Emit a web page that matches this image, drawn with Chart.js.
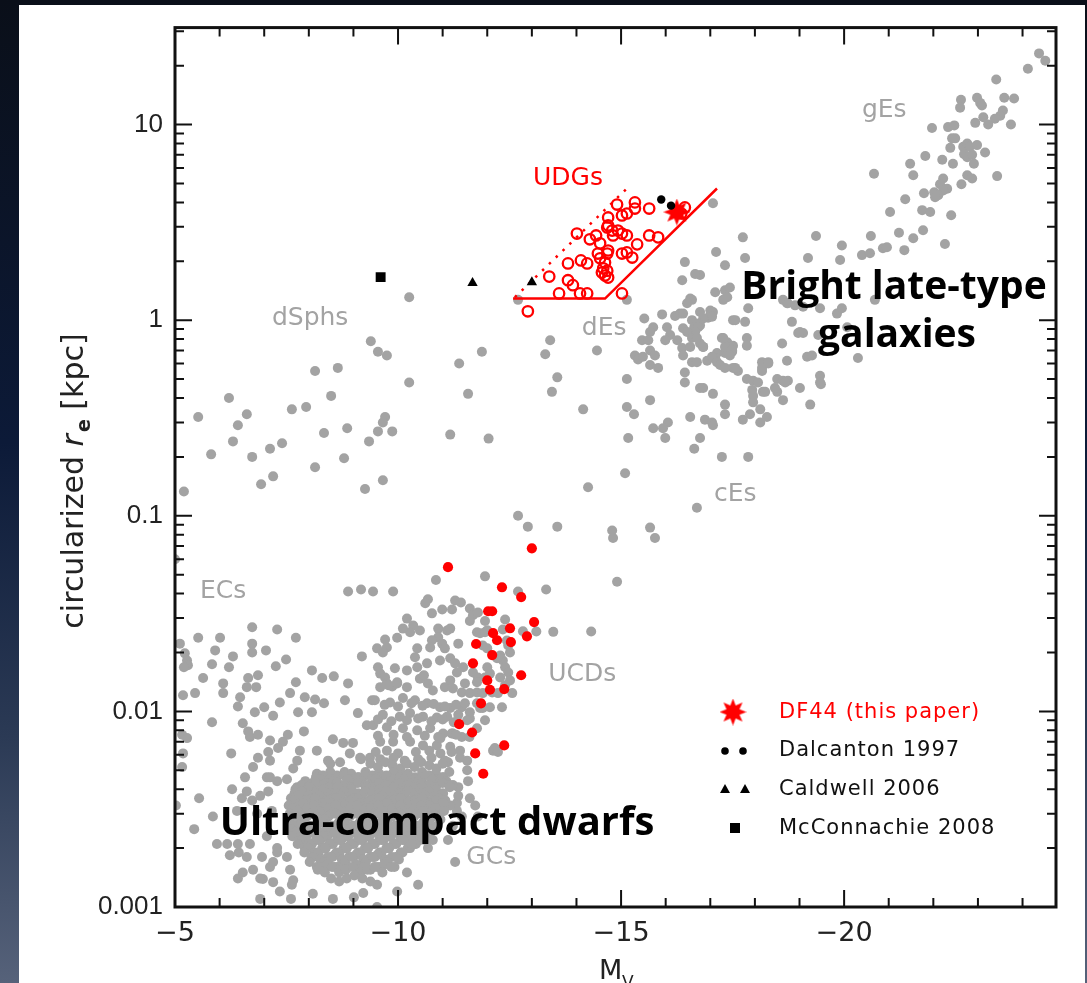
<!DOCTYPE html>
<html lang="en">
<head>
<meta charset="UTF-8">
<title>Size-luminosity plane</title>
<script src="https://cdn.jsdelivr.net/npm/chart.js"></script>
<style>
  html, body { margin: 0; padding: 0; }
  body {
    width: 1087px; height: 983px; overflow: hidden; position: relative;
    background: linear-gradient(180deg, #0a0f19 0%, #0c1a38 45%, #2b3a55 75%, #56627a 100%);
  }
  /* white slide panel behind the plot */
  #panel { position: absolute; left: 19px; top: 5px; width: 1066px; height: 978px; background: #fff; }
  #chart { position: absolute; left: 0; top: 0; }
</style>
</head>
<body>
<div id="panel"></div>
<canvas id="chart" width="1087" height="983"></canvas>
<script>
// axis ticks
const xTicks = [-5, -10, -15, -20];
const xTickLabels = ['\u22125', '\u221210', '\u221215', '\u221220'];
const yTicks = [0.001, 0.01, 0.1, 1, 10];
const yTickLabels = ['0.001', '0.01', '0.1', '1', '10'];

// [M_V, r_e (kpc)]
const df44 = [[-16.25, 3.57]];
const dalcanton = [[-15.90, 4.14], [-16.12, 3.85]];
const caldwell = [[-11.67, 1.55], [-13.0, 1.56]];
const mcconnachie = [[-9.61, 1.66]];

const udgPts = [
  [-14.91, 3.90], [-15.31, 4.00], [-15.31, 3.72], [-15.63, 3.72], [-16.43, 3.77], [-15.02, 3.43],
  [-15.13, 3.51], [-14.71, 3.35], [-14.71, 3.05], [-14.69, 2.98], [-14.80, 2.87], [-14.93, 2.87],
  [-14.82, 2.71], [-15.02, 2.77], [-15.13, 2.71], [-15.63, 2.71], [-15.83, 2.65], [-14.01, 2.77],
  [-14.30, 2.59], [-14.44, 2.71], [-14.53, 2.47], [-15.36, 2.44], [-14.48, 2.19], [-14.69, 2.19],
  [-14.71, 2.27], [-15.02, 2.19], [-15.13, 2.22], [-15.25, 2.09], [-14.10, 2.02], [-14.24, 1.95],
  [-13.81, 1.95], [-14.53, 2.07], [-14.64, 1.97], [-14.60, 1.84], [-14.69, 1.79], [-14.71, 1.65],
  [-14.64, 1.69], [-14.57, 1.75], [-13.39, 1.67], [-13.81, 1.60], [-13.92, 1.51], [-13.61, 1.37],
  [-14.08, 1.37], [-14.24, 1.37], [-15.02, 1.37], [-12.91, 1.11], [-16.35, 3.51]
];

const ucdRed = [
  [-13.00, 0.0682], [-11.12, 0.0546], [-12.33, 0.0431], [-12.76, 0.0384], [-12.02, 0.0325],
  [-12.11, 0.0325], [-13.05, 0.0286], [-12.51, 0.0266], [-12.13, 0.0251], [-12.89, 0.0242],
  [-12.22, 0.0231], [-12.53, 0.0226], [-11.75, 0.0221], [-12.11, 0.0194], [-11.68, 0.0176],
  [-12.76, 0.0153], [-12.00, 0.0144], [-12.06, 0.0129], [-12.38, 0.0130], [-11.86, 0.0110],
  [-11.37, 0.0086], [-11.66, 0.0078], [-12.38, 0.0067], [-11.73, 0.0061], [-11.91, 0.0048]
];

// UDG selection box: solid edge and dotted edge
const udgBoxSolid = [[-12.58, 1.29], [-14.64, 1.29], [-17.15, 4.71]];
const udgBoxDotted = [[-12.62, 1.31], [-15.13, 4.71]];

// gray comparison sample
const giantPts = [
  [-24.37, 23.1], [-24.51, 21.2], [-24.12, 19.3], [-23.41, 17.0], [-22.62, 13.4], [-22.60, 12.2],
  [-22.98, 13.7], [-23.05, 12.9], [-23.09, 12.5], [-23.59, 13.7], [-23.81, 13.6], [-23.56, 11.8],
  [-23.50, 11.1], [-23.38, 10.7], [-23.23, 10.0], [-23.12, 10.9], [-22.94, 10.2], [-23.74, 10.0],
  [-21.97, 9.6], [-22.33, 9.7], [-22.47, 9.9], [-22.42, 8.5], [-22.49, 8.5], [-22.38, 7.6],
  [-22.67, 7.7], [-22.76, 8.0], [-22.82, 7.7], [-22.98, 7.85], [-23.16, 7.2], [-22.69, 7.05],
  [-22.76, 6.8], [-22.87, 7.0], [-21.82, 6.9], [-22.20, 6.6], [-22.44, 6.3], [-22.91, 6.3],
  [-21.48, 6.3], [-21.55, 5.5], [-20.67, 5.6], [-23.43, 5.45], [-22.76, 5.5], [-22.87, 5.3],
  [-22.22, 5.3], [-22.15, 4.95], [-22.31, 4.7], [-22.22, 4.6], [-22.63, 4.95], [-21.79, 4.45],
  [-22.02, 4.5], [-22.11, 4.35], [-22.04, 4.25], [-21.37, 4.15], [-21.03, 3.57], [-21.75, 3.65],
  [-21.93, 3.57], [-22.40, 3.44], [-21.23, 2.8], [-21.55, 2.62], [-21.77, 2.88], [-22.26, 2.45],
  [-20.60, 2.69], [-20.87, 2.33], [-20.96, 2.36], [-20.40, 2.15], [-20.58, 2.2], [-19.95, 2.41],
  [-19.37, 2.69], [-17.73, 2.65], [-21.35, 2.28], [-19.91, 2.03], [-19.19, 2.08], [-17.78, 2.08],
  [-17.13, 2.23], [-17.33, 1.91], [-16.77, 1.70], [-17.11, 1.39], [-17.33, 1.42], [-17.44, 1.47],
  [-17.85, 1.15], [-18.72, 1.22], [-18.90, 1.19], [-19.08, 1.17], [-19.46, 1.15], [-19.84, 1.08],
  [-19.95, 1.15], [-20.07, 0.92], [-20.69, 1.27], [-17.51, 1.0], [-17.78, 0.98], [-18.83, 0.98],
  [-19.08, 0.86], [-16.77, 0.94], [-16.95, 1.03], [-17.06, 1.10], [-17.26, 0.81], [-17.38, 0.77],
  [-17.51, 0.74], [-17.49, 0.69], [-17.33, 0.68], [-18.61, 0.76], [-16.77, 0.76], [-16.84, 0.73],
  [-17.15, 0.68], [-17.11, 0.64], [-18.16, 0.61], [-18.30, 0.61], [-18.72, 0.62], [-19.17, 0.65],
  [-19.28, 0.66], [-20.31, 0.64], [-18.16, 0.57], [-17.51, 0.57], [-17.62, 0.55], [-17.82, 0.50],
  [-17.96, 0.49], [-18.07, 0.48], [-18.50, 0.50], [-18.63, 0.49], [-18.74, 0.49], [-19.46, 0.52],
  [-19.46, 0.48], [-19.01, 0.45], [-17.94, 0.44], [-17.96, 0.41], [-18.50, 0.43], [-16.77, 0.45],
  [-17.06, 0.42], [-17.33, 0.37], [-17.33, 0.33], [-17.96, 0.38], [-17.89, 0.33], [-17.73, 0.31],
  [-18.12, 0.30], [-18.18, 0.43], [-18.27, 0.32], [-18.45, 0.45], [-18.63, 0.39], [-19.24, 0.37],
  [-19.48, 0.47], [-18.12, 0.35], [-16.88, 0.31], [-17.04, 0.30], [-16.77, 0.25], [-17.26, 0.20],
  [-17.85, 0.20], [-18.68, 0.48]
];

const dePts = [
  [-17.06, 3.96], [-16.43, 1.98], [-16.66, 1.72], [-16.37, 1.60], [-17.29, 1.27], [-17.38, 1.31],
  [-16.55, 1.29], [-16.59, 1.27], [-16.48, 1.22], [-18.63, 1.27], [-18.74, 1.22], [-15.13, 1.27],
  [-12.69, 1.27], [-15.52, 1.02], [-15.92, 1.07], [-16.21, 1.05], [-16.32, 1.08], [-16.39, 1.08],
  [-16.77, 1.10], [-17.0, 1.12], [-17.04, 1.04], [-16.84, 1.02], [-16.59, 1.0], [-16.73, 0.96],
  [-16.64, 0.92], [-16.73, 0.92], [-16.66, 0.87], [-17.56, 1.0], [-15.72, 0.92], [-15.65, 0.87],
  [-16.03, 0.92], [-16.10, 0.84], [-15.99, 0.79], [-16.39, 0.91], [-16.48, 0.87], [-16.59, 0.81],
  [-16.70, 0.81], [-15.47, 0.79], [-15.61, 0.79], [-16.26, 0.79], [-16.37, 0.72], [-16.55, 0.73],
  [-16.84, 0.73], [-17.29, 0.81], [-17.33, 0.73], [-17.49, 0.70], [-17.44, 0.66], [-17.82, 0.81],
  [-17.82, 0.74], [-18.97, 0.86], [-19.01, 0.87], [-19.42, 0.84], [-15.65, 0.70], [-15.76, 0.66],
  [-15.31, 0.66], [-15.38, 0.63], [-15.49, 0.65], [-15.65, 0.59], [-15.83, 0.57], [-16.39, 0.66],
  [-16.59, 0.61], [-16.70, 0.61], [-16.93, 0.62], [-17.04, 0.65], [-17.15, 0.61], [-17.22, 0.59],
  [-17.33, 0.57], [-17.56, 0.57], [-18.30, 0.60], [-18.16, 0.55], [-16.43, 0.54], [-16.43, 0.48],
  [-16.84, 0.45], [-18.23, 0.43], [-17.06, 0.29], [-16.55, 0.32], [-15.13, 0.50], [-15.65, 0.39],
  [-15.13, 0.36], [-15.29, 0.33], [-16.05, 0.30], [-15.94, 0.28], [-15.72, 0.28], [-15.99, 0.25],
  [-15.16, 0.25], [-16.64, 0.22], [-15.09, 0.165], [-14.26, 0.14], [-16.70, 0.11], [-13.41, 0.79],
  [-13.30, 0.67], [-14.46, 0.70], [-13.57, 0.51], [-13.45, 0.43], [-14.15, 0.35]
];

const dsphPts = [
  [-10.25, 1.31], [-9.39, 0.78], [-9.55, 0.69], [-9.75, 0.66], [-10.25, 0.48], [-8.14, 0.55],
  [-8.65, 0.57], [-11.37, 0.60], [-11.88, 0.69], [-11.57, 0.42], [-6.21, 0.40], [-8.50, 0.41],
  [-7.62, 0.35], [-7.94, 0.36], [-5.52, 0.32], [-6.61, 0.33], [-6.41, 0.29], [-9.71, 0.32],
  [-9.66, 0.30], [-9.55, 0.27], [-9.87, 0.27], [-8.34, 0.265], [-8.86, 0.28], [-9.35, 0.24],
  [-11.17, 0.26], [-12.03, 0.248], [-6.30, 0.24], [-5.81, 0.206], [-6.73, 0.20], [-7.13, 0.22],
  [-7.40, 0.235], [-8.14, 0.177], [-8.79, 0.197], [-6.93, 0.145], [-7.20, 0.159], [-9.26, 0.137],
  [-9.66, 0.152], [-5.20, 0.133]
];

const compactPts = [
  [-12.69, 0.10], [-12.91, 0.088], [-13.57, 0.088], [-14.80, 0.084], [-14.82, 0.077], [-15.65, 0.087],
  [-15.76, 0.077], [-5.0, 0.060], [-14.91, 0.046], [-13.32, 0.042], [-10.85, 0.047], [-11.95, 0.049],
  [-12.69, 0.041], [-14.33, 0.0256], [-13.48, 0.0255], [-13.10, 0.0256], [-12.80, 0.0257],
  [-8.88, 0.041], [-9.17, 0.042], [-9.44, 0.041], [-9.89, 0.041],
  [-5.52, 0.0238], [-6.01, 0.0238], [-6.73, 0.0269], [-7.29, 0.0262], [-7.71, 0.0238], [-5.11, 0.0222],
  [-6.73, 0.0222], [-6.73, 0.020], [-7.04, 0.0205], [-5.90, 0.0205], [-5.22, 0.0198], [-5.27, 0.0182],
  [-5.29, 0.0172], [-5.20, 0.0168], [-6.30, 0.0191], [-5.83, 0.0174], [-6.21, 0.0168], [-7.26, 0.0170],
  [-7.49, 0.0184], [-9.19, 0.0191], [-9.71, 0.0233], [-9.75, 0.0212], [-9.98, 0.0238], [-5.63, 0.0148],
  [-6.64, 0.0148], [-6.86, 0.0153], [-6.61, 0.0133], [-6.82, 0.0133], [-6.08, 0.0139], [-7.71, 0.0141],
  [-8.07, 0.0162], [-8.30, 0.0148], [-8.56, 0.0151], [-8.88, 0.0139], [-9.55, 0.0168], [-9.60, 0.0156],
  [-9.71, 0.0149], [-9.75, 0.0139], [-9.87, 0.0134], [-9.98, 0.0139], [-5.18, 0.0121], [-5.45, 0.0124],
  [-6.08, 0.0124], [-6.46, 0.0118], [-7.58, 0.0124], [-7.91, 0.0118], [-6.41, 0.0106], [-6.79, 0.0099],
  [-7.0, 0.0105], [-7.20, 0.0095], [-7.35, 0.0111], [-7.76, 0.0099], [-8.07, 0.0099], [-8.14, 0.0115],
  [-8.34, 0.0110], [-8.81, 0.0114], [-9.10, 0.0098], [-9.42, 0.0114], [-5.83, 0.0088], [-6.52, 0.0087],
  [-6.64, 0.0079], [-6.68, 0.0074], [-6.86, 0.0076], [-7.13, 0.0071], [-7.42, 0.0070], [-7.53, 0.0076],
  [-7.89, 0.0079], [-8.54, 0.0072], [-8.77, 0.0069], [-8.99, 0.0069], [-6.26, 0.0061], [-6.75, 0.0052],
  [-6.86, 0.0058], [-7.09, 0.0062], [-7.13, 0.0056], [-7.31, 0.0065], [-8.18, 0.0063], [-8.43, 0.0056],
  [-9.17, 0.0057], [-5.16, 0.0076], [-5.27, 0.0073], [-5.18, 0.0061], [-5.16, 0.0052], [-5.02, 0.0033],
  [-5.54, 0.0036], [-5.85, 0.0029], [-5.43, 0.0025], [-5.94, 0.0021], [-6.17, 0.0021], [-6.50, 0.0036],
  [-6.61, 0.0039], [-7.09, 0.0039], [-6.23, 0.00184], [-6.43, 0.0019], [-6.61, 0.0018], [-6.41, 0.0014],
  [-6.52, 0.0015], [-7.13, 0.0016], [-6.91, 0.0011], [-7.35, 0.0012], [-7.60, 0.0011], [-8.09, 0.00117],
  [-8.54, 0.0011], [-9.01, 0.00112], [-7.29, 0.0019], [-9.53, 0.001], [-6.97, 0.00139], [-7.62, 0.0013],
  [-9.22, 0.00118], [-9.53, 0.0013], [-9.98, 0.0012], [-10.20, 0.0015], [-10.45, 0.0013], [-11.28, 0.0017],
  [-10.67, 0.002], [-10.78, 0.0022], [-11.12, 0.0022], [-11.23, 0.0026], [-11.32, 0.0031], [-11.43, 0.0029],
  [-11.57, 0.0044], [-11.35, 0.0041], [-11.32, 0.0034], [-11.73, 0.0033], [-11.12, 0.0055], [-11.55, 0.0056],
  [-12.13, 0.0063], [-10.90, 0.0074], [-11.20, 0.0077], [-11.77, 0.0082], [-11.61, 0.0092], [-11.90, 0.0104],
  [-11.77, 0.011], [-7.80, 0.0063], [-9.30, 0.0085], [-6.57, 0.0046], [-7.06, 0.0046], [-6.28, 0.0040],
  [-6.73, 0.0035], [-6.91, 0.0037], [-6.39, 0.0031], [-6.84, 0.0030], [-7.17, 0.0031], [-6.41, 0.0021],
  [-6.68, 0.0021], [-7.06, 0.0023], [-7.29, 0.0020], [-6.95, 0.0018], [-7.20, 0.0017], [-7.51, 0.0018],
  [-6.75, 0.00155], [-7.58, 0.00155], [-6.91, 0.0014], [-7.20, 0.00134], [-7.65, 0.00137],
  [-7.74, 0.0056], [-7.65, 0.0051], [-7.13, 0.0046], [-7.29, 0.0044], [-7.51, 0.0045], [-7.74, 0.0041],
  [-8.18, 0.0048], [-8.48, 0.0054], [-8.70, 0.0055], [-8.92, 0.0061], [-9.15, 0.0058], [-9.37, 0.0058],
  [-11.35, 0.0037], [-11.61, 0.0036], [-11.17, 0.0033], [-11.79, 0.0029], [-11.39, 0.0058], [-11.55, 0.005],
  [-10.67, 0.0374], [-10.61, 0.0357], [-11.28, 0.0369], [-11.41, 0.036], [-10.99, 0.0332], [-11.21, 0.0332],
  [-10.76, 0.0317], [-11.61, 0.0336], [-11.68, 0.0310], [-11.79, 0.032], [-11.95, 0.029], [-11.61, 0.029],
  [-12.40, 0.0295], [-12.35, 0.0262], [-10.20, 0.0298], [-10.34, 0.0275], [-10.49, 0.0259], [-10.27, 0.0254],
  [-10.11, 0.0265], [-10.90, 0.0265], [-11.10, 0.0259], [-11.17, 0.0265], [-10.90, 0.0239], [-10.76, 0.0231],
  [-11.35, 0.0222], [-11.77, 0.0254], [-11.84, 0.0251], [-11.95, 0.0254], [-12.0, 0.026], [-11.90, 0.0217],
  [-12.0, 0.021], [-12.44, 0.023], [-12.47, 0.0217], [-12.51, 0.020], [-12.29, 0.0193], [-12.22, 0.0187],
  [-12.35, 0.0182], [-9.53, 0.021], [-9.66, 0.020], [-10.43, 0.021], [-10.72, 0.0212], [-10.99, 0.0222],
  [-11.05, 0.021], [-10.38, 0.0189], [-10.65, 0.0176], [-10.43, 0.0168], [-10.20, 0.0162], [-9.93, 0.0166],
  [-10.94, 0.0182], [-11.17, 0.0187], [-11.28, 0.0176], [-11.32, 0.0158], [-11.46, 0.0168], [-11.68, 0.0158],
  [-11.79, 0.0149], [-11.95, 0.0149], [-12.06, 0.0156], [-12.40, 0.0168], [-12.47, 0.0158], [-12.51, 0.0144],
  [-12.40, 0.0136], [-9.60, 0.0133], [-9.78, 0.0136], [-9.98, 0.0141], [-10.20, 0.0133], [-10.49, 0.0147],
  [-10.67, 0.0139], [-10.78, 0.0128], [-11.05, 0.0133], [-11.23, 0.0131], [-11.43, 0.0125], [-11.61, 0.0124],
  [-11.77, 0.0125], [-11.90, 0.0124], [-12.11, 0.0125], [-12.24, 0.0124], [-12.56, 0.0124], [-9.48, 0.0114],
  [-9.82, 0.0111], [-10.11, 0.0117], [-10.38, 0.0114], [-10.65, 0.011], [-10.94, 0.0105], [-11.17, 0.0104],
  [-11.43, 0.0105], [-11.61, 0.0099], [-11.84, 0.0104], [-12.06, 0.0105], [-12.33, 0.0105], [-9.66, 0.0096],
  [-10.04, 0.0094], [-10.27, 0.0098], [-10.56, 0.0094], [-10.87, 0.0093], [-11.10, 0.0094], [-11.35, 0.0096],
  [-11.55, 0.0090], [-11.95, 0.0090], [-9.44, 0.0085], [-9.75, 0.0083], [-10.11, 0.0082], [-10.43, 0.0080],
  [-10.72, 0.0082], [-11.01, 0.0077], [-11.23, 0.0077], [-11.43, 0.0074], [-9.60, 0.0070], [-9.89, 0.0070],
  [-10.27, 0.0070], [-10.56, 0.0067], [-10.87, 0.0067], [-11.17, 0.0066], [-11.39, 0.0063], [-12.17, 0.0065],
  [-12.24, 0.0062], [-10.58, 0.0153], [-12.0, 0.0168], [-12.24, 0.0189], [-12.29, 0.0149], [-11.17, 0.0144],
  [-11.50, 0.0139], [-11.77, 0.0141]
];

// band joining the GC clump to the UCDs
const gcBandPts = [
  [-9.7, 0.0108], [-10.0, 0.0106], [-10.3, 0.011], [-10.55, 0.0107], [-10.8, 0.0109], [-11.05, 0.0106],
  [-11.3, 0.0108], [-11.5, 0.011],
  [-9.55, 0.0091], [-9.85, 0.0089], [-10.2, 0.009], [-10.45, 0.0092], [-10.75, 0.0089], [-11.0, 0.0091],
  [-11.25, 0.0088],
  [-9.55, 0.0075], [-9.9, 0.0076], [-10.2, 0.0074], [-10.6, 0.0075], [-10.95, 0.0073], [-11.3, 0.0076],
  [-11.6, 0.0074],
  [-9.5, 0.0062], [-9.75, 0.0063], [-10.0, 0.0061], [-10.4, 0.0062], [-10.7, 0.0063], [-10.95, 0.0061],
  [-11.2, 0.0062],
  [-9.6, 0.0057], [-9.9, 0.0058], [-10.15, 0.0056], [-10.45, 0.0057], [-10.75, 0.0058], [-11.05, 0.0056]
];

// dense globular cluster clump, read row by row
const gcCorePts = [
  [-9.38, 0.0054], [-9.55, 0.0052], [-9.72, 0.0055], [-9.88, 0.0053], [-10.05, 0.0051], [-10.2, 0.0054],
  [-10.37, 0.0052], [-10.52, 0.0055], [-10.7, 0.0053], [-10.86, 0.0051], [-11.0, 0.0054],
  [-8.48, 0.0049], [-8.63, 0.0047], [-8.8, 0.0049], [-8.95, 0.0048], [-9.12, 0.0046], [-9.27, 0.0049],
  [-9.43, 0.0047], [-9.58, 0.0048], [-9.75, 0.0046], [-9.9, 0.0049], [-10.06, 0.0047], [-10.22, 0.0048],
  [-10.38, 0.0046], [-10.54, 0.0049], [-10.7, 0.0047], [-10.85, 0.0048], [-11.02, 0.0046], [-11.15, 0.0049],
  [-8.16, 0.0046], [-8.32, 0.0047], [-8.47, 0.0045], [-8.63, 0.0046], [-8.79, 0.0047], [-8.95, 0.0045],
  [-9.1, 0.0046], [-9.26, 0.0047], [-9.42, 0.0045], [-9.58, 0.0046], [-9.74, 0.0047], [-9.9, 0.0045],
  [-10.05, 0.0046], [-10.21, 0.0047], [-10.37, 0.0045], [-10.53, 0.0046], [-10.68, 0.0047], [-10.84, 0.0045],
  [-11.0, 0.0046],
  [-7.92, 0.0044], [-8.08, 0.0043], [-8.24, 0.0045], [-8.4, 0.0043], [-8.55, 0.0044], [-8.71, 0.0042],
  [-8.87, 0.0045], [-9.03, 0.0043], [-9.18, 0.0044], [-9.34, 0.0042], [-9.5, 0.0045], [-9.66, 0.0043],
  [-9.82, 0.0044], [-9.97, 0.0042], [-10.13, 0.0045], [-10.29, 0.0043], [-10.45, 0.0044], [-10.6, 0.0042],
  [-10.76, 0.0045], [-10.92, 0.0043], [-11.08, 0.0044], [-11.23, 0.0042],
  [-7.84, 0.0042], [-8.0, 0.0041], [-8.16, 0.0043], [-8.32, 0.0042], [-8.47, 0.0041], [-8.63, 0.0043],
  [-8.79, 0.0042], [-8.95, 0.0041], [-9.1, 0.0043], [-9.26, 0.0042], [-9.42, 0.0041], [-9.58, 0.0043],
  [-9.74, 0.0042], [-9.9, 0.0041], [-10.05, 0.0043], [-10.21, 0.0042], [-10.37, 0.0041], [-10.53, 0.0043],
  [-10.68, 0.0042], [-10.84, 0.0041], [-11.0, 0.0043], [-11.15, 0.0042],
  [-7.7, 0.0040], [-7.86, 0.0039], [-8.02, 0.0041], [-8.17, 0.0039], [-8.33, 0.0040], [-8.49, 0.0038],
  [-8.65, 0.0041], [-8.8, 0.0039], [-8.96, 0.0040], [-9.12, 0.0038], [-9.28, 0.0041], [-9.43, 0.0039],
  [-9.59, 0.0040], [-9.75, 0.0038], [-9.91, 0.0041], [-10.06, 0.0039], [-10.22, 0.0040], [-10.38, 0.0038],
  [-10.54, 0.0041], [-10.69, 0.0039], [-10.85, 0.0040], [-11.01, 0.0038], [-11.16, 0.0041],
  [-7.68, 0.0038], [-7.84, 0.0039], [-8.0, 0.0037], [-8.16, 0.0038], [-8.32, 0.0039], [-8.47, 0.0037],
  [-8.63, 0.0038], [-8.79, 0.0039], [-8.95, 0.0037], [-9.1, 0.0038], [-9.26, 0.0039], [-9.42, 0.0037],
  [-9.58, 0.0038], [-9.74, 0.0039], [-9.9, 0.0037], [-10.05, 0.0038], [-10.21, 0.0039], [-10.37, 0.0037],
  [-10.53, 0.0038], [-10.68, 0.0039], [-10.84, 0.0037], [-11.0, 0.0038],
  [-7.6, 0.0036], [-7.76, 0.0037], [-7.92, 0.0035], [-8.08, 0.0036], [-8.24, 0.0037], [-8.39, 0.0035],
  [-8.55, 0.0036], [-8.71, 0.0037], [-8.87, 0.0035], [-9.02, 0.0036], [-9.18, 0.0037], [-9.34, 0.0035],
  [-9.5, 0.0036], [-9.65, 0.0037], [-9.81, 0.0035], [-9.97, 0.0036], [-10.13, 0.0037], [-10.28, 0.0035],
  [-10.44, 0.0036], [-10.6, 0.0037], [-10.76, 0.0035], [-10.91, 0.0036], [-11.06, 0.0035],
  [-7.66, 0.0035], [-7.82, 0.0034], [-7.98, 0.0035], [-8.14, 0.0036], [-8.3, 0.0034], [-8.46, 0.0035],
  [-8.62, 0.0036], [-8.78, 0.0034], [-8.94, 0.0035], [-9.1, 0.0036], [-9.26, 0.0034], [-9.42, 0.0035],
  [-9.58, 0.0036], [-9.74, 0.0034], [-9.9, 0.0035], [-10.06, 0.0036], [-10.22, 0.0034], [-10.38, 0.0035],
  [-10.54, 0.0036], [-10.7, 0.0034], [-10.86, 0.0035], [-11.0, 0.0034],
  [-7.55, 0.0033], [-7.71, 0.0032], [-7.87, 0.0034], [-8.03, 0.0032], [-8.18, 0.0033], [-8.34, 0.0031],
  [-8.5, 0.0034], [-8.66, 0.0032], [-8.81, 0.0033], [-8.97, 0.0031], [-9.13, 0.0034], [-9.29, 0.0032],
  [-9.44, 0.0033], [-9.6, 0.0031], [-9.76, 0.0034], [-9.92, 0.0032], [-10.07, 0.0033], [-10.23, 0.0031],
  [-10.39, 0.0034], [-10.55, 0.0032], [-10.7, 0.0033], [-10.86, 0.0031], [-11.02, 0.0034],
  [-7.64, 0.0032], [-7.8, 0.0031], [-7.96, 0.0032], [-8.12, 0.0033], [-8.28, 0.0031], [-8.44, 0.0032],
  [-8.6, 0.0033], [-8.76, 0.0031], [-8.92, 0.0032], [-9.08, 0.0033], [-9.24, 0.0031], [-9.4, 0.0032],
  [-9.56, 0.0033], [-9.72, 0.0031], [-9.88, 0.0032], [-10.04, 0.0033], [-10.2, 0.0031], [-10.36, 0.0032],
  [-10.52, 0.0033], [-10.68, 0.0031], [-10.84, 0.0032], [-10.98, 0.0031],
  [-7.57, 0.0030], [-7.73, 0.0031], [-7.89, 0.0029], [-8.05, 0.0030], [-8.2, 0.0031], [-8.36, 0.0029],
  [-8.52, 0.0030], [-8.68, 0.0031], [-8.83, 0.0029], [-8.99, 0.0030], [-9.15, 0.0031], [-9.31, 0.0029],
  [-9.46, 0.0030], [-9.62, 0.0031], [-9.78, 0.0029], [-9.94, 0.0030], [-10.09, 0.0031], [-10.25, 0.0029],
  [-10.41, 0.0030], [-10.57, 0.0031], [-10.72, 0.0029], [-10.88, 0.0030], [-11.03, 0.0031],
  [-7.64, 0.0029], [-7.8, 0.0028], [-7.96, 0.0029], [-8.12, 0.0030], [-8.28, 0.0028], [-8.44, 0.0029],
  [-8.6, 0.0030], [-8.76, 0.0028], [-8.92, 0.0029], [-9.08, 0.0030], [-9.24, 0.0028], [-9.4, 0.0029],
  [-9.56, 0.0030], [-9.72, 0.0028], [-9.88, 0.0029], [-10.04, 0.0030], [-10.2, 0.0028], [-10.36, 0.0029],
  [-10.52, 0.0030], [-10.68, 0.0028], [-10.84, 0.0029], [-10.95, 0.0028],
  [-7.56, 0.0027], [-7.72, 0.0026], [-7.88, 0.0028], [-8.04, 0.0026], [-8.19, 0.0027], [-8.35, 0.0028],
  [-8.51, 0.0026], [-8.67, 0.0027], [-8.82, 0.0028], [-8.98, 0.0026], [-9.14, 0.0027], [-9.3, 0.0028],
  [-9.45, 0.0026], [-9.61, 0.0027], [-9.77, 0.0028], [-9.93, 0.0026], [-10.08, 0.0027], [-10.24, 0.0028],
  [-10.4, 0.0026], [-10.56, 0.0027], [-10.71, 0.0028], [-10.87, 0.0026],
  [-7.68, 0.0026], [-7.84, 0.0027], [-8.0, 0.0025], [-8.16, 0.0026], [-8.32, 0.0027], [-8.47, 0.0025],
  [-8.63, 0.0026], [-8.79, 0.0027], [-8.95, 0.0025], [-9.1, 0.0026], [-9.26, 0.0027], [-9.42, 0.0025],
  [-9.58, 0.0026], [-9.74, 0.0027], [-9.9, 0.0025], [-10.05, 0.0026], [-10.21, 0.0027], [-10.37, 0.0025],
  [-10.53, 0.0026], [-10.68, 0.0027], [-10.8, 0.0025],
  [-7.6, 0.0025], [-7.76, 0.0024], [-7.92, 0.0025], [-8.07, 0.0026], [-8.23, 0.0024], [-8.39, 0.0025],
  [-8.55, 0.0026], [-8.7, 0.0024], [-8.86, 0.0025], [-9.02, 0.0026], [-9.18, 0.0024], [-9.33, 0.0025],
  [-9.49, 0.0026], [-9.65, 0.0024], [-9.81, 0.0025], [-9.96, 0.0026], [-10.12, 0.0024], [-10.28, 0.0025],
  [-10.44, 0.0026], [-10.59, 0.0024], [-10.75, 0.0025],
  [-7.7, 0.0024], [-7.86, 0.0023], [-8.02, 0.0024], [-8.18, 0.0025], [-8.34, 0.0023], [-8.5, 0.0024],
  [-8.66, 0.0025], [-8.82, 0.0023], [-8.98, 0.0024], [-9.14, 0.0025], [-9.3, 0.0023], [-9.46, 0.0024],
  [-9.62, 0.0025], [-9.78, 0.0023], [-9.94, 0.0024], [-10.1, 0.0025], [-10.26, 0.0023], [-10.42, 0.0024],
  [-10.58, 0.0025], [-10.7, 0.0023],
  [-7.63, 0.0023], [-7.79, 0.0022], [-7.95, 0.0023], [-8.1, 0.0024], [-8.26, 0.0022], [-8.42, 0.0023],
  [-8.58, 0.0024], [-8.73, 0.0022], [-8.89, 0.0023], [-9.05, 0.0024], [-9.21, 0.0022], [-9.36, 0.0023],
  [-9.52, 0.0024], [-9.68, 0.0022], [-9.84, 0.0023], [-9.99, 0.0024], [-10.15, 0.0022], [-10.31, 0.0023],
  [-10.47, 0.0024], [-10.6, 0.0022],
  [-7.84, 0.0022], [-8.0, 0.0021], [-8.16, 0.0022], [-8.32, 0.0023], [-8.47, 0.0021], [-8.63, 0.0022],
  [-8.79, 0.0023], [-8.95, 0.0021], [-9.1, 0.0022], [-9.26, 0.0023], [-9.42, 0.0021], [-9.58, 0.0022],
  [-9.74, 0.0023], [-9.9, 0.0021], [-10.05, 0.0022], [-10.21, 0.0023], [-10.37, 0.0021], [-10.5, 0.0022],
  [-7.75, 0.0021], [-7.91, 0.0020], [-8.07, 0.0021], [-8.22, 0.0022], [-8.38, 0.0020], [-8.54, 0.0021],
  [-8.7, 0.0022], [-8.85, 0.0020], [-9.01, 0.0021], [-9.17, 0.0022], [-9.33, 0.0020], [-9.48, 0.0021],
  [-9.64, 0.0022], [-9.8, 0.0020], [-9.96, 0.0021], [-10.11, 0.0022], [-10.27, 0.0020], [-10.4, 0.0021],
  [-7.98, 0.0020], [-8.14, 0.0019], [-8.3, 0.0020], [-8.46, 0.0021], [-8.62, 0.0019], [-8.78, 0.0020],
  [-8.94, 0.0021], [-9.1, 0.0019], [-9.26, 0.0020], [-9.42, 0.0021], [-9.58, 0.0019], [-9.74, 0.0020],
  [-9.9, 0.0021], [-10.06, 0.0019], [-10.22, 0.0020], [-10.3, 0.0021],
  [-7.9, 0.0019], [-8.06, 0.0018], [-8.22, 0.0019], [-8.37, 0.0020], [-8.53, 0.0018], [-8.69, 0.0019],
  [-8.85, 0.0020], [-9.0, 0.0018], [-9.16, 0.0019], [-9.32, 0.0020], [-9.48, 0.0018], [-9.63, 0.0019],
  [-9.79, 0.0020], [-9.95, 0.0018], [-10.1, 0.0019],
  [-8.1, 0.0018], [-8.26, 0.00175], [-8.42, 0.0018], [-8.58, 0.00185], [-8.74, 0.00175], [-8.9, 0.0018],
  [-9.06, 0.00185], [-9.22, 0.00175], [-9.38, 0.0018], [-9.54, 0.00185], [-9.7, 0.00175], [-9.86, 0.0018],
  [-10.02, 0.00175],
  [-8.02, 0.0017], [-8.18, 0.0016], [-8.34, 0.0017], [-8.5, 0.0018], [-8.65, 0.0016], [-8.81, 0.0017],
  [-8.97, 0.0018], [-9.13, 0.0016], [-9.28, 0.0017], [-9.44, 0.0018], [-9.6, 0.0016], [-9.76, 0.0017],
  [-9.92, 0.0016],
  [-8.26, 0.0016], [-8.42, 0.00165], [-8.58, 0.0016], [-8.74, 0.00155], [-8.9, 0.0016], [-9.06, 0.00165],
  [-9.22, 0.0016], [-9.38, 0.00155], [-9.54, 0.0016], [-9.7, 0.00165], [-9.85, 0.0016],
  [-8.2, 0.00155], [-8.36, 0.0015], [-8.52, 0.0016], [-8.68, 0.0015], [-8.83, 0.00155], [-8.99, 0.0016],
  [-9.15, 0.0015], [-9.31, 0.00155], [-9.47, 0.0016], [-9.65, 0.0015],
  [-8.5, 0.0014], [-8.68, 0.00135], [-8.85, 0.0014], [-9.02, 0.00145], [-9.2, 0.0014], [-9.38, 0.00135]
];

// region labels, placed in data coordinates
const grayLabels = [
  { text: 'gEs', m: -20.90, r: 11.8 },
  { text: 'dSphs', m: -8.03, r: 1.02 },
  { text: 'dEs', m: -14.62, r: 0.91 },
  { text: 'cEs', m: -17.56, r: 0.129 },
  { text: 'ECs', m: -6.08, r: 0.041 },
  { text: 'UCDs', m: -14.13, r: 0.0155 },
  { text: 'GCs', m: -12.09, r: 0.0018 }
];

const toXY = pts => pts.map(([m, r]) => ({ x: m, y: r }));

const GRAY = '#a3a3a3';
const RED = '#ff0000';
const SANS = '"DejaVu Sans", sans-serif';

function starImage(size, color) {
  const c = document.createElement('canvas');
  c.width = c.height = size;
  const g = c.getContext('2d');
  const mid = size / 2, R = size / 2, r = R * 0.52;
  g.beginPath();
  for (let i = 0; i < 16; i++) {
    const a = -Math.PI / 2 + i * Math.PI / 8;
    const rad = i % 2 ? r : R;
    g.lineTo(mid + rad * Math.cos(a), mid + rad * Math.sin(a));
  }
  g.closePath();
  g.fillStyle = color;
  g.fill();
  return c;
}
const star = starImage(27, RED);

// box, inward ticks, axis titles
const framePlugin = {
  id: 'frame',
  afterDraw(chart) {
    const { ctx, chartArea: a, scales: { x, y } } = chart;
    ctx.save();
    ctx.strokeStyle = '#111';
    ctx.lineWidth = 2;
    ctx.beginPath();
    for (let m = -5; m >= -24; m--) {
      const px = x.getPixelForValue(m);
      const len = m % 5 === 0 ? 17 : 9;
      ctx.moveTo(px, a.bottom); ctx.lineTo(px, a.bottom - len);
      ctx.moveTo(px, a.top); ctx.lineTo(px, a.top + len);
    }
    for (const d of yTicks) {
      for (let k = 1; k < 10; k++) {
        const v = d * k;
        if (v > y.max) break;
        const py = y.getPixelForValue(v);
        const len = k === 1 ? 17 : 9;
        ctx.moveTo(a.left, py); ctx.lineTo(a.left + len, py);
        ctx.moveTo(a.right, py); ctx.lineTo(a.right - len, py);
      }
    }
    ctx.stroke();
    ctx.lineWidth = 3;
    ctx.strokeRect(a.left, a.top, a.right - a.left, a.bottom - a.top);

    // y title: circularized r_e [kpc]
    ctx.fillStyle = '#222';
    ctx.translate(83, 482);
    ctx.rotate(-Math.PI / 2);
    const parts = [
      { t: 'circularized ', f: '30px ' + SANS, dy: 0 },
      { t: 'r', f: 'italic 30px ' + SANS, dy: 0 },
      { t: 'e', f: 'bold 19px ' + SANS, dy: 7 },
      { t: ' [kpc]', f: '30px ' + SANS, dy: 0 }
    ];
    let total = 0;
    for (const p of parts) { ctx.font = p.f; p.w = ctx.measureText(p.t).width; total += p.w; }
    let cx = -total / 2;
    ctx.textBaseline = 'alphabetic';
    for (const p of parts) { ctx.font = p.f; ctx.fillText(p.t, cx, p.dy); cx += p.w + (p.t === 'r' ? 2 : 0); }
    ctx.restore();

    // x title: M_V
    ctx.save();
    ctx.fillStyle = '#222';
    ctx.font = '27px ' + SANS;
    ctx.fillText('M', 599, 979);
    ctx.font = '17px ' + SANS;
    ctx.fillText('V', 622, 988);
    ctx.restore();
  }
};

// region names, slide captions and the key
const notesPlugin = {
  id: 'notes',
  afterDatasetsDraw(chart) {
    const { ctx, scales: { x, y } } = chart;
    ctx.save();
    ctx.textAlign = 'center';
    ctx.textBaseline = 'middle';
    ctx.font = '25px ' + SANS;
    ctx.fillStyle = GRAY;
    for (const l of grayLabels) ctx.fillText(l.text, x.getPixelForValue(l.m), y.getPixelForValue(l.r));
    ctx.fillStyle = RED;
    ctx.fillText('UDGs', x.getPixelForValue(-13.81), y.getPixelForValue(5.3));

    ctx.fillStyle = '#000';
    ctx.font = 'bold 39px "Open Sans", sans-serif';
    ctx.textBaseline = 'alphabetic';
    ctx.fillText('Bright late-type', 894, 299);
    ctx.fillText('galaxies', 897, 347);
    ctx.font = 'bold 40px "Open Sans", sans-serif';
    ctx.fillText('Ultra-compact dwarfs', 437, 835);

    // key
    ctx.drawImage(star, 733 - 13.5, 712 - 13.5);
    ctx.fillStyle = '#000';
    ctx.beginPath();
    ctx.arc(725, 751, 3.8, 0, Math.PI * 2);
    ctx.arc(743, 751, 3.8, 0, Math.PI * 2);
    ctx.fill();
    for (const tx of [725, 745]) {
      ctx.beginPath();
      ctx.moveTo(tx, 784); ctx.lineTo(tx + 5, 793); ctx.lineTo(tx - 5, 793);
      ctx.closePath(); ctx.fill();
    }
    ctx.fillRect(730, 823, 10, 10);

    ctx.textAlign = 'left';
    ctx.textBaseline = 'middle';
    ctx.font = '21px ' + SANS;
    ctx.letterSpacing = '1px';
    ctx.fillStyle = RED;
    ctx.fillText('DF44 (this paper)', 779, 713);
    ctx.fillStyle = '#111';
    ctx.fillText('Dalcanton 1997', 779, 751);
    ctx.fillText('Caldwell 2006', 779, 790);
    ctx.fillText('McConnachie 2008', 779, 829);
    ctx.restore();
  }
};

const grayAll = [...giantPts, ...dePts, ...dsphPts, ...compactPts, ...gcBandPts, ...gcCorePts];

new Chart(document.getElementById('chart'), {
  type: 'scatter',
  data: {
    datasets: [
      { data: toXY(dalcanton), pointRadius: 4.2, backgroundColor: '#000', borderWidth: 0, order: -1 },
      { data: toXY(df44), pointStyle: star, order: 0 },
      { data: toXY(caldwell), pointStyle: 'triangle', pointRadius: 6, backgroundColor: '#000', borderWidth: 0, order: 1 },
      { data: toXY(mcconnachie), pointStyle: 'rect', pointRadius: 7, backgroundColor: '#000', borderWidth: 0, order: 1 },
      { data: toXY(udgPts), pointRadius: 5.2, backgroundColor: 'rgba(0,0,0,0)', borderColor: RED, borderWidth: 2.3, order: 2 },
      { data: toXY(udgBoxSolid), showLine: true, pointRadius: 0, borderColor: RED, borderWidth: 2.5, order: 3 },
      { data: toXY(udgBoxDotted), showLine: true, pointRadius: 0, borderColor: RED, borderWidth: 2.5, borderDash: [2.5, 7], order: 3 },
      { data: toXY(ucdRed), pointRadius: 5.1, backgroundColor: RED, borderWidth: 0, order: 4 },
      { data: toXY(grayAll), pointRadius: 5, backgroundColor: GRAY, borderWidth: 0, order: 5 }
    ]
  },
  options: {
    responsive: false,
    animation: false,
    events: [],
    layout: { padding: { left: 0, top: 27, right: 31, bottom: 0 } },
    plugins: { legend: { display: false }, tooltip: { enabled: false } },
    scales: {
      x: {
        type: 'linear', min: -24.75, max: -5, reverse: true,
        grid: { display: false, drawTicks: false }, border: { display: false },
        afterBuildTicks: s => { s.ticks = xTicks.map(v => ({ value: v })); },
        afterFit: s => { s.height = 76; },
        ticks: {
          padding: 11, color: '#222', maxRotation: 0, autoSkip: false,
          font: { family: SANS, size: 27 },
          callback: v => xTickLabels[xTicks.indexOf(v)]
        }
      },
      y: {
        type: 'logarithmic', min: 0.001, max: 31.3,
        grid: { display: false, drawTicks: false }, border: { display: false },
        afterBuildTicks: s => { s.ticks = yTicks.map(v => ({ value: v })); },
        afterFit: s => { s.width = 175; },
        ticks: {
          padding: 12, color: '#222', autoSkip: false,
          font: { family: '"Liberation Sans", sans-serif', size: 26 },
          callback: v => yTickLabels[yTicks.indexOf(v)]
        }
      }
    }
  },
  plugins: [framePlugin, notesPlugin]
});
</script>
</body>
</html>
